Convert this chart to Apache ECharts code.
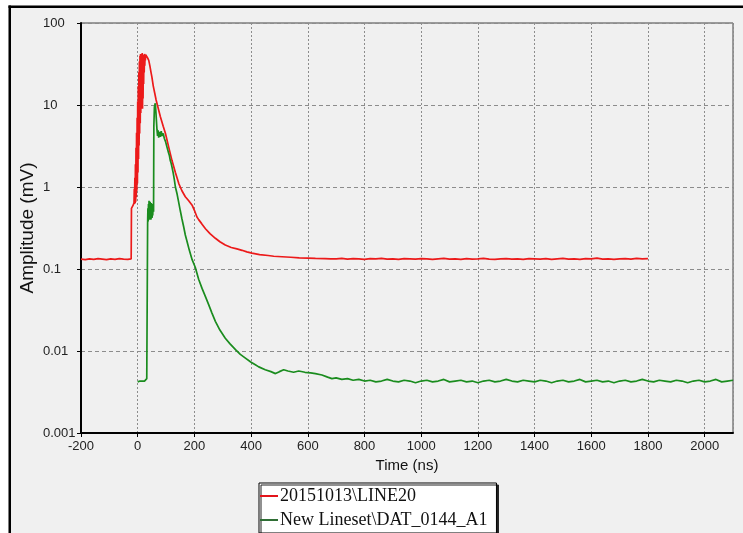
<!DOCTYPE html>
<html>
<head>
<meta charset="utf-8">
<script src="https://cdn.jsdelivr.net/npm/echarts/dist/echarts.min.js"></script>
<style>
  html, body { margin: 0; padding: 0; background: #ffffff; }
  #chart { width: 743px; height: 533px; }
</style>
</head>
<body>
<div id="chart"></div>
<script>
// Series names (legend entries)
const redName = '20151013\\LINE20';
const greenName = 'New Lineset\\DAT_0144_A1';

// 20151013\LINE20 : time (ns) and amplitude (mV)
const redTime = [
  -200, -185, -170, -155, -140, -125, -110, -95, -80, -65, -50, -35, -23,
  -22, -16, -13,
  -12, -11, -10, -9, -8, -7, -6, -5, -4, -3, -2, -1, 0, 1, 2, 3, 4, 5, 6, 7, 8, 9, 10,
  11, 12, 13, 14, 15, 16, 17, 18, 19, 20, 21, 22, 23, 24, 25, 26, 27, 28, 30, 32, 34, 36,
  39, 43, 47, 50, 55, 60, 65, 71, 80, 90, 98, 110, 121, 133, 145, 156, 168, 180, 192,
  200, 209, 215, 225, 239, 255, 274, 290, 309, 330, 350, 368, 385, 403, 430, 460, 480,
  509, 540, 570, 600, 627, 660, 680,
  700, 720, 740, 760, 780, 800, 820, 840, 860, 880, 900, 920, 940, 960, 980,
  1000, 1020, 1040, 1060, 1080, 1100, 1120, 1140, 1160, 1180, 1200, 1220, 1240, 1260, 1280,
  1300, 1320, 1340, 1360, 1380, 1400, 1420, 1440, 1460, 1480, 1500, 1520, 1540, 1560, 1580,
  1600, 1620, 1640, 1660, 1680, 1700, 1720, 1740, 1760, 1780, 1800
];
const redAmp = [
  0.132, 0.130, 0.133, 0.131, 0.134, 0.132, 0.130, 0.133, 0.131, 0.134, 0.132, 0.131, 0.133,
  0.55, 0.60, 0.64,
  0.95, 0.62, 1.3, 0.64, 1.9, 0.66, 3.0, 0.75, 4.6, 0.9, 7, 1.1, 11, 1.5, 17, 2.2, 25, 3.2, 34, 4.5, 40, 6, 42,
  8, 41, 14, 40, 22, 43, 9, 38, 12, 41, 18, 39, 25, 42, 30, 40, 35, 41, 39, 41, 38, 39,
  35, 30, 25, 22, 17, 14, 11.5, 9.5, 7.2, 5.5, 4.5, 3.0, 2.1, 1.5, 1.1, 0.9, 0.76, 0.68, 0.60,
  0.52, 0.43, 0.40, 0.36, 0.31, 0.27, 0.237, 0.215, 0.196, 0.183, 0.176, 0.169, 0.162, 0.156, 0.150, 0.146, 0.143,
  0.141, 0.139, 0.137, 0.136, 0.135, 0.134, 0.133,
  0.133, 0.135, 0.132, 0.134, 0.133, 0.131, 0.134, 0.133, 0.135, 0.132, 0.133, 0.131, 0.134, 0.133, 0.132,
  0.134, 0.133, 0.131, 0.133, 0.135, 0.132, 0.133, 0.131, 0.134, 0.132, 0.133, 0.135, 0.132, 0.131, 0.133,
  0.134, 0.132, 0.133, 0.131, 0.134, 0.133, 0.132, 0.134, 0.131, 0.133, 0.135, 0.132, 0.133, 0.131, 0.134,
  0.133, 0.136, 0.132, 0.133, 0.131, 0.133, 0.134, 0.132, 0.135, 0.133, 0.134
];

// New Lineset\DAT_0144_A1 : time (ns) and amplitude (mV)
const greenTime = [
  0, 4, 8, 12, 16, 20, 24, 28, 32, 34,
  35, 36, 37, 38, 39, 40, 41, 42, 43, 44, 45, 46, 47, 48, 49, 50, 51, 52, 53, 54, 56,
  57, 59, 62, 64, 66, 68, 70, 72, 74, 77, 80, 83, 86, 90, 94, 98, 101, 104, 107, 109, 112, 115, 118,
  121, 125, 129, 133, 139, 145, 150, 156, 162, 168, 175, 182, 192, 203, 215, 227, 239, 250, 262, 274,
  290, 309, 325, 345, 362, 380, 400, 415, 427, 450, 470, 486, 500, 515, 530, 550, 568, 590, 610, 627,
  650, 670, 685, 700, 720, 740, 760, 780, 800,
  820, 840, 860, 880, 900, 920, 940, 960, 980, 1000, 1020, 1040, 1060, 1080, 1100, 1120, 1140, 1160, 1180,
  1200, 1220, 1240, 1260, 1280, 1300, 1320, 1340, 1360, 1380, 1400, 1420, 1440, 1460, 1480, 1500, 1520,
  1540, 1560, 1580, 1600, 1620, 1640, 1660, 1680, 1700, 1720, 1740, 1760, 1780, 1800, 1820, 1840, 1860,
  1880, 1900, 1920, 1940, 1960, 1980, 2000, 2020, 2040, 2060, 2080, 2100
];
const greenAmp = [
  0.0042, 0.0044, 0.0043, 0.0045, 0.0043, 0.0044, 0.0043, 0.0045, 0.0046, 0.0047,
  0.35, 0.55, 0.38, 0.62, 0.42, 0.68, 0.40, 0.60, 0.45, 0.66, 0.42, 0.60, 0.40, 0.64, 0.44, 0.58, 0.42, 0.62, 0.45, 0.55, 0.50,
  5.5, 9.5, 10.5, 8.5, 6.5, 5.0, 4.2, 4.9, 4.0, 4.7, 4.1, 4.8, 4.2, 4.5, 3.9, 3.6, 3.7, 3.0, 2.9, 2.6, 2.4, 2.1, 1.95,
  1.75, 1.5, 1.25, 1.0, 0.82, 0.64, 0.52, 0.41, 0.33, 0.26, 0.21, 0.17, 0.13, 0.105, 0.075, 0.058, 0.046, 0.037, 0.029, 0.023,
  0.018, 0.0143, 0.0123, 0.0104, 0.0091, 0.0082, 0.0073, 0.0068, 0.0064, 0.0059, 0.0056, 0.0053, 0.0056, 0.0059, 0.0057, 0.0055, 0.0057, 0.0055, 0.0054, 0.0053,
  0.0051, 0.0048, 0.0046, 0.0047, 0.0045, 0.0046, 0.0044, 0.0045, 0.0043,
  0.0044, 0.0042, 0.0043, 0.0045, 0.0043, 0.0042, 0.0044, 0.0043, 0.0041, 0.0043, 0.0044, 0.0042, 0.0043, 0.0045, 0.0042, 0.0043, 0.0044, 0.0042, 0.0043,
  0.0041, 0.0043, 0.0044, 0.0042, 0.0043, 0.0045, 0.0043, 0.0042, 0.0044, 0.0043, 0.0042, 0.0044, 0.0043, 0.0041, 0.0043, 0.0044, 0.0042,
  0.0043, 0.0045, 0.0042, 0.0043, 0.0044, 0.0042, 0.0043, 0.0041, 0.0043, 0.0044, 0.0042, 0.0043, 0.0045, 0.0043, 0.0042, 0.0044, 0.0043,
  0.0042, 0.0044, 0.0043, 0.0041, 0.0043, 0.0044, 0.0042, 0.0043, 0.0045, 0.0042, 0.0043, 0.0044
];

// Axis settings
const timeMin = -200, timeMax = 2100, timeStep = 200;
const ampMin = 0.001, ampMax = 100;

const pairs = (xs, ys) => xs.map((x, i) => [x, ys[i]]);

const chart = echarts.init(document.getElementById('chart'), null, { renderer: 'canvas' });

const axisFont = 'Liberation Sans, Arial, sans-serif';

chart.setOption({
  animation: false,
  backgroundColor: '#f0f0f0',
  graphic: [
    // white margin and black frame along the top and left edges
    { type: 'rect', shape: { x: 0, y: 0, width: 743, height: 5.5 }, style: { fill: '#ffffff' }, silent: true },
    { type: 'rect', shape: { x: 0, y: 0, width: 8.5, height: 533 }, style: { fill: '#ffffff' }, silent: true },
    { type: 'rect', shape: { x: 8.5, y: 5.5, width: 735, height: 2.5 }, style: { fill: '#000000' }, silent: true },
    { type: 'rect', shape: { x: 8.5, y: 5.5, width: 2.5, height: 528 }, style: { fill: '#000000' }, silent: true }
  ],
  grid: {
    left: 81, top: 23, right: 10, bottom: 100,
    show: true, backgroundColor: 'transparent',
    borderColor: '#444444', borderWidth: 1
  },
  legend: {
    orient: 'vertical',
    left: 259, top: 483,
    padding: [3, 9, 3, 1],
    itemGap: 4,
    itemWidth: 18, itemHeight: 2,
    icon: 'rect',
    backgroundColor: '#ffffff',
    borderColor: '#000000', borderWidth: 1,
    shadowColor: '#222222', shadowOffsetX: 2, shadowOffsetY: 2, shadowBlur: 0,
    textStyle: { fontFamily: 'Liberation Serif, Times New Roman, serif', fontSize: 18, color: '#111111', lineHeight: 20, padding: [0, 0, 0, -3] },
    data: [
      { name: redName, itemStyle: { color: '#e3141b' } },
      { name: greenName, itemStyle: { color: '#2f6e35' } }
    ]
  },
  xAxis: {
    type: 'value',
    min: timeMin, max: timeMax, interval: timeStep,
    name: 'Time (ns)',
    nameLocation: 'middle', nameGap: 24,
    nameTextStyle: { fontFamily: axisFont, fontSize: 15, color: '#111111' },
    axisLine: { onZero: false, lineStyle: { color: '#000000', width: 2 } },
    axisTick: { show: true, length: 4, lineStyle: { color: '#000000' } },
    axisLabel: {
      fontFamily: axisFont, fontSize: 13, color: '#222222', margin: 7, showMaxLabel: false,
      formatter: v => String(v)
    },
    splitLine: { show: true, lineStyle: { color: '#8c8c8c', width: 1, type: [2, 2] } }
  },
  yAxis: {
    type: 'log', logBase: 10,
    min: ampMin, max: ampMax,
    name: 'Amplitude (mV)',
    nameLocation: 'middle', nameGap: 44, nameRotate: 90,
    nameMoveOverlap: false,
    nameTextStyle: { fontFamily: axisFont, fontSize: 19, color: '#111111' },
    axisLine: { onZero: false, lineStyle: { color: '#000000', width: 2 } },
    axisTick: { show: true, length: 4, lineStyle: { color: '#000000' } },
    axisLabel: {
      fontFamily: axisFont, fontSize: 13, color: '#222222',
      align: 'left', margin: 38,
      formatter: v => String(+v.toPrecision(3))
    },
    splitLine: { show: true, lineStyle: { color: '#8c8c8c', width: 1, type: [4, 3] } }
  },
  series: [
    {
      name: redName, type: 'line', data: pairs(redTime, redAmp),
      showSymbol: false, symbol: 'none',
      lineStyle: { color: '#ec1a1a', width: 1.7 },
      itemStyle: { color: '#ec1a1a' },
      z: 3
    },
    {
      name: greenName, type: 'line', data: pairs(greenTime, greenAmp),
      showSymbol: false, symbol: 'none',
      lineStyle: { color: '#1a8c1e', width: 1.7 },
      itemStyle: { color: '#1a8c1e' },
      z: 4
    }
  ]
});
</script>
</body>
</html>
